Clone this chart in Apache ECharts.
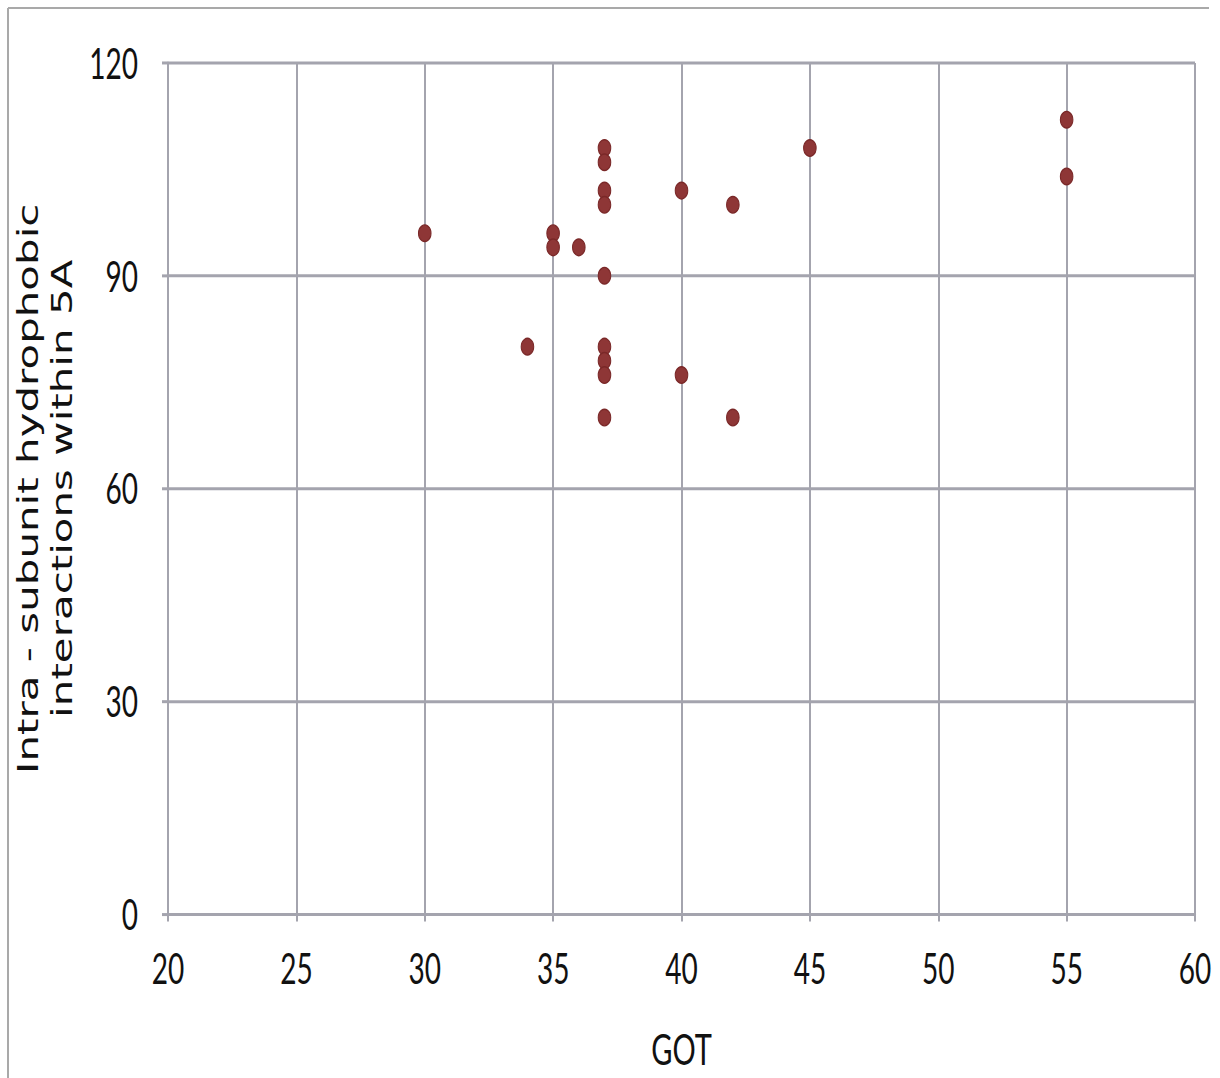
<!DOCTYPE html>
<html>
<head>
<meta charset="utf-8">
<script src="https://cdn.jsdelivr.net/npm/echarts@6/dist/echarts.min.js"></script>
<style>
html,body{margin:0;padding:0;background:#fff;}
#wrap{position:relative;width:1220px;height:1078px;overflow:hidden;background:#fff;}
#chart{position:absolute;left:0;top:0;width:1220px;height:719px;transform:scaleY(1.4993);transform-origin:0 0;}
</style>
</head>
<body>
<div id="wrap"><div id="chart"></div></div>
<script>
var gotValues = [30, 34, 35, 35, 36, 37, 37, 37, 37, 37, 37, 37, 37, 37, 40, 40, 42, 42, 45, 55, 55];
var hydroValues = [96, 80, 96, 94, 94, 108, 106, 102, 100, 90, 80, 78, 76, 70, 102, 76, 100, 70, 108, 112, 104];
var xTicks = [20, 25, 30, 35, 40, 45, 50, 55, 60];
var yTicks = [0, 30, 60, 90, 120];
var xTitle = 'GOT';
var yTitle = 'Intra - subunit hydrophobic\ninteractions within 5A';

var points = gotValues.map(function (x, i) { return [x, hydroValues[i]]; });
var labelFont = "Lato, 'Open Sans', 'Liberation Sans', sans-serif";
var gridColor = '#a4a4ae';

var chart = echarts.init(document.getElementById('chart'), null, { renderer: 'svg' });
chart.setOption({
  backgroundColor: '#ffffff',
  animation: false,
  grid: { left: 168, right: 25, top: 42, bottom: 109.4, containLabel: false, outerBoundsMode: 'none' },
  xAxis: {
    type: 'value', min: xTicks[0], max: xTicks[xTicks.length - 1], interval: 5,
    name: xTitle, nameLocation: 'middle', nameGap: 75,
    nameTextStyle: { fontFamily: labelFont, fontSize: 29, color: '#111' },
    axisLine: { show: true, lineStyle: { color: gridColor, width: 2 } },
    axisTick: { show: true, length: 5, lineStyle: { color: gridColor, width: 2 } },
    splitLine: { show: true, lineStyle: { color: gridColor, width: 2 } },
    axisLabel: { fontFamily: labelFont, fontSize: 28, color: '#111', margin: 22 }
  },
  yAxis: {
    type: 'value', min: yTicks[0], max: yTicks[yTicks.length - 1], interval: 30,
    axisLine: { show: true, lineStyle: { color: gridColor, width: 2 } },
    axisTick: { show: true, length: 6, lineStyle: { color: gridColor, width: 2 } },
    splitLine: { show: true, lineStyle: { color: gridColor, width: 2 } },
    axisLabel: { fontFamily: labelFont, fontSize: 28, color: '#111', margin: 30 }
  },
  series: [{
    type: 'scatter',
    data: points,
    symbol: 'circle',
    symbolSize: [12.5, 11],
    itemStyle: { color: '#8e3636', borderColor: '#7a2828', borderWidth: 1, opacity: 1 }
  }],
  graphic: [
    {
      type: 'line', silent: true,
      shape: { x1: 8, y1: 5.3, x2: 8, y2: 719 },
      style: { stroke: '#a9a9a9', lineWidth: 2 }
    },
    {
      type: 'line', silent: true,
      shape: { x1: 8, y1: 5.3, x2: 1209, y2: 5.3 },
      style: { stroke: '#a9a9a9', lineWidth: 1.4 }
    },
    {
      type: 'text', silent: true,
      x: 45, y: 326, rotation: Math.PI / 2,
      style: {
        text: yTitle, fontFamily: "'DejaVu Sans', sans-serif", fontSize: 28,
        lineHeight: 34, fill: '#111', align: 'center', verticalAlign: 'middle'
      }
    }
  ]
});
</script>
</body>
</html>
